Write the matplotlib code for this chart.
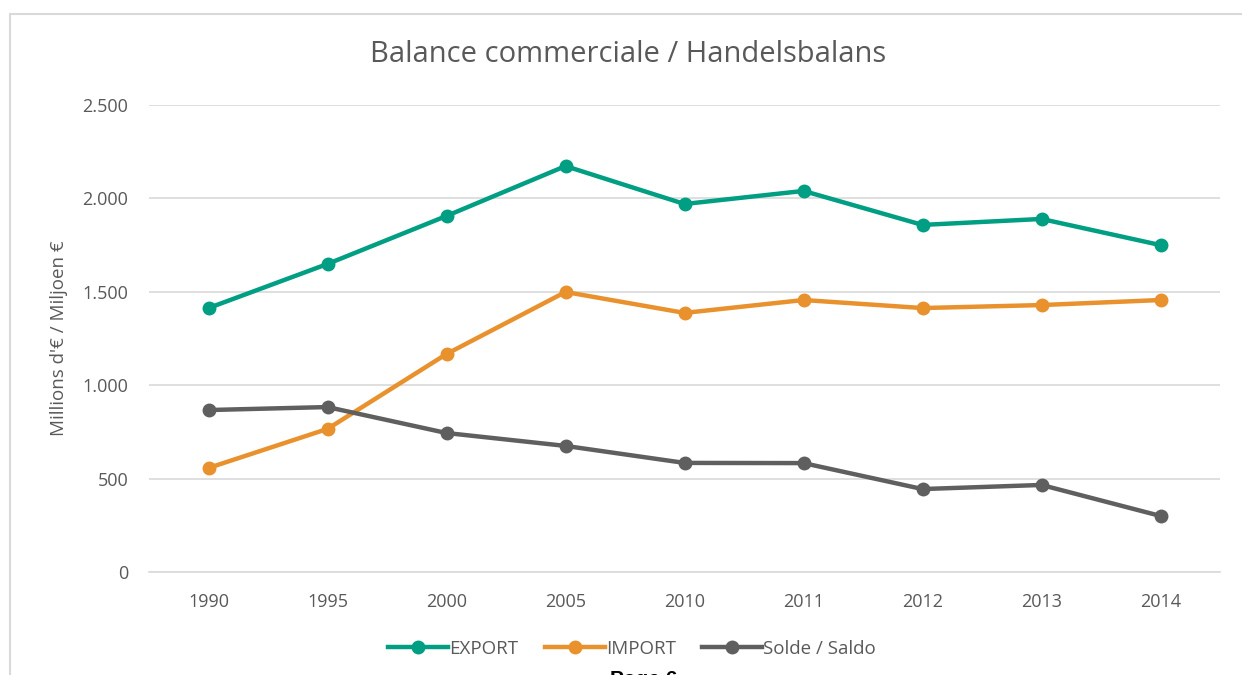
import numpy as np
import matplotlib
matplotlib.use("Agg")
import matplotlib.pyplot as plt
from matplotlib.patches import Rectangle

# data
years = ["1990", "1995", "2000", "2005", "2010", "2011", "2012", "2013", "2014"]
export = [1413, 1649, 1906, 2173, 1970, 2040, 1858, 1890, 1750]
imports = [557, 766, 1167, 1499, 1387, 1456, 1413, 1429, 1456]
solde = [867, 883, 744, 675, 584, 583, 444, 466, 300]

plt.rcParams['font.family'] = ['Open Sans', 'DejaVu Sans']
txt = '#595959'
grid = '#d9d9d9'

fig = plt.figure(figsize=(12.42, 6.75), dpi=100)
ax = fig.add_axes([149/1242, 103/675, (1220-149)/1242, (572-105)/675])

x = np.arange(len(years))
ax.plot(x, export, color='#009e82', lw=3.2, marker='o', ms=9, label='EXPORT')
ax.plot(x, imports, color='#e8912d', lw=3.2, marker='o', ms=9, label='IMPORT')
ax.plot(x, solde, color='#5f5f5f', lw=3.2, marker='o', ms=9, label='Solde / Saldo')

ax.set_xlim(-0.5, len(years) - 0.5)
ax.set_ylim(0, 2500)
ax.set_yticks(np.arange(0, 2501, 500))
ax.set_yticklabels(['0', '500', '1.000', '1.500', '2.000', '2.500'])
ax.set_xticks(x)
ax.set_xticklabels(years)
ax.tick_params(length=0, labelsize=13, colors=txt)
ax.tick_params(axis='x', pad=15)
ax.tick_params(axis='y', pad=15)
ax.grid(axis='y', color=grid, lw=1.2)
ax.set_axisbelow(True)
for s in ['top', 'right', 'left']:
    ax.spines[s].set_visible(False)
ax.spines['bottom'].set_color(grid)
ax.spines['bottom'].set_linewidth(1.2)

ax.set_ylabel("Millions d'€ / Miljoen €", fontsize=13.5, color=txt, labelpad=10)
fig.text(628/1242, 1 - 55/675, 'Balance commerciale / Handelsbalans',
         ha='center', va='center', fontsize=21, color=txt)

fig.legend(loc='center', bbox_to_anchor=(632/1242, 1 - 649/675), ncol=3,
           frameon=False, fontsize=13.5, labelcolor=txt, handlelength=3.2,
           handletextpad=0.05, columnspacing=1.4)

# chart frame
fig.patches.append(Rectangle((10/1242, -0.1), 1.1, 1 - 14/675 + 0.1,
                             transform=fig.transFigure, fill=False,
                             ec=grid, lw=1.5))

fig.text(610/1242, 1 - 670/675, 'Page 6', ha='left', va='top',
         fontsize=15, fontweight='bold', color='black',
         family=['Liberation Sans', 'DejaVu Sans'])

fig.savefig('out.png', dpi=100)
